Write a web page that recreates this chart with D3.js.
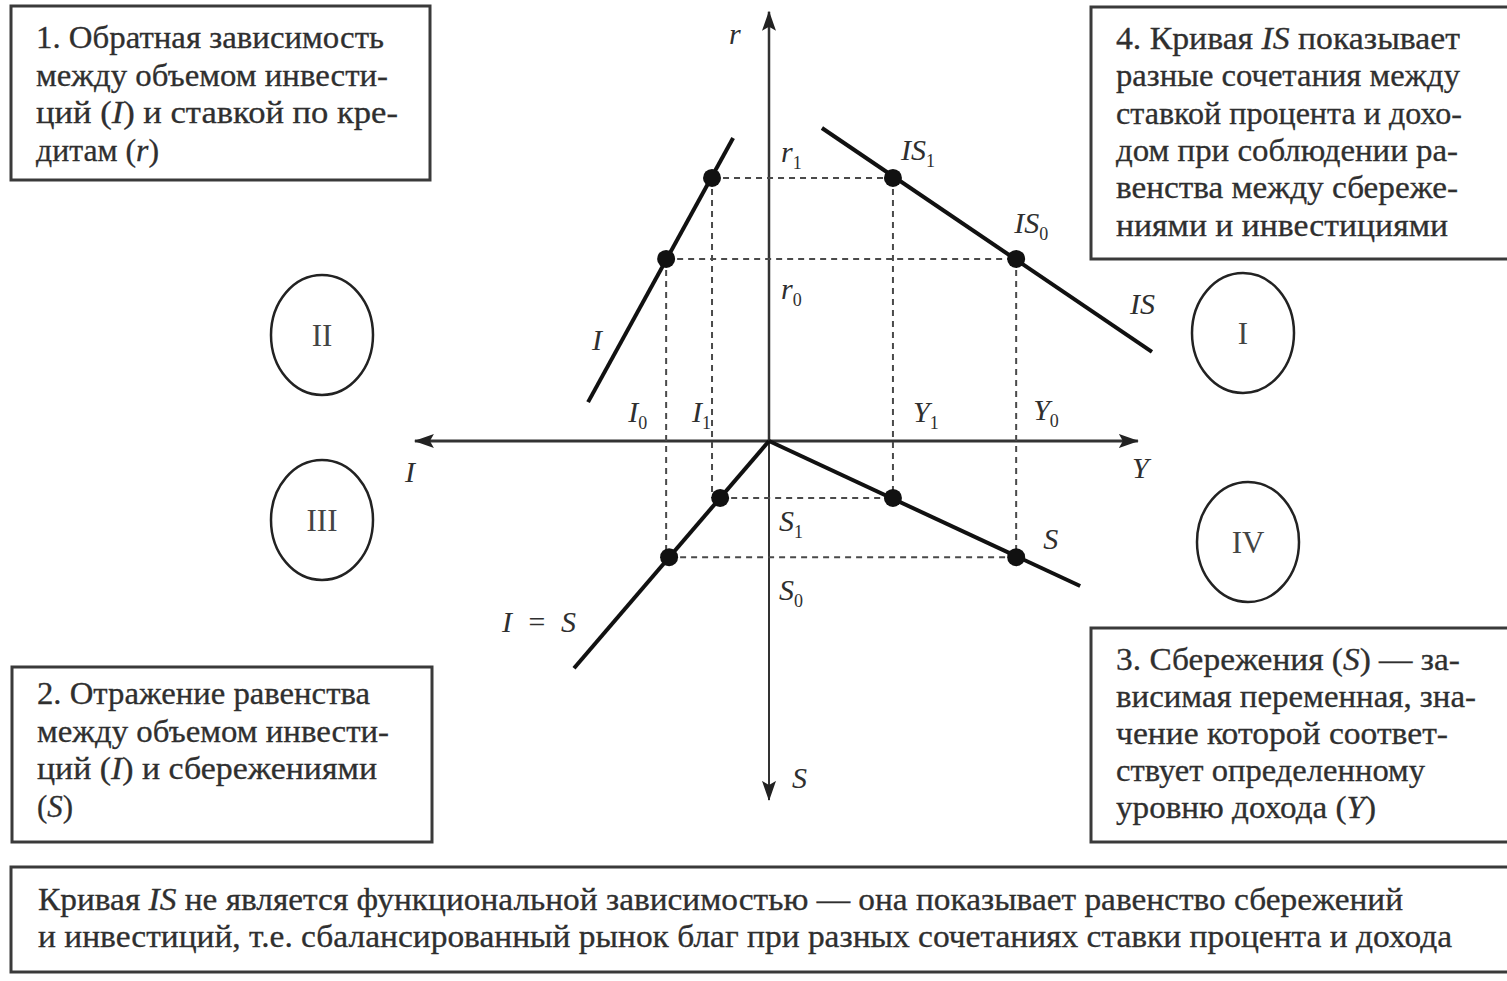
<!DOCTYPE html>
<html>
<head>
<meta charset="utf-8">
<script src="https://cdnjs.cloudflare.com/ajax/libs/d3/7.8.5/d3.min.js"></script>
<style>
    body { margin: 0; background: #fff; }
    text { font-family: "Liberation Serif", "Times New Roman", serif; }
</style>
</head>
<body>
<div id="plot"></div>
<script>
var W = 1507, H = 981;

// levels (abstract units, origin at axes crossing)
var rLevels = [4.92, 7.11];    // r0, r1
var iLevels = [-2.78, -1.54];  // I0, I1
var yLevels = [6.68, 3.35];    // Y0, Y1
var sLevels = [-3.14, -1.54];  // S0, S1
var eqDotX = [-2.70, -1.32];   // dots on I = S line

// the four lines
var investLine = [[-4.89, 1.05], [-0.97, 8.19]];
var isLine = [[1.43, 8.46], [10.35, 2.41]];
var equalLine = [[0, 0], [-5.27, -6.14]];
var savingLine = [[0, 0], [8.41, -3.92]];

// axis extent
var axisX = [-9.57, 9.97];
var axisY = [-9.7, 11.6];

var quadrants = ["I", "II", "III", "IV"];

// box texts, *...* = italic
var box1 = ["1. Обратная зависимость", "между объемом инвести-", "ций (*I*) и ставкой по кре-", "дитам (*r*)"];
var box2 = ["2. Отражение равенства", "между объемом инвести-", "ций (*I*) и сбережениями", "(*S*)"];
var box3 = ["3. Сбережения (*S*) — за-", "висимая переменная, зна-", "чение которой соответ-", "ствует определенному", "уровню дохода (*Y*)"];
var box4 = ["4. Кривая *IS* показывает", "разные сочетания между", "ставкой процента и дохо-", "дом при соблюдении ра-", "венства между сбереже-", "ниями и инвестициями"];
var boxBottom = ["Кривая *IS* не является функциональной зависимостью — она показывает равенство сбережений",
    "и инвестиций, т.е. сбалансированный рынок благ при разных сочетаниях ставки процента и дохода"];

var svg = d3.select('#plot').append('svg')
    .attr('width', W).attr('height', H);

var x = d3.scaleLinear().domain([-10, 10]).range([399, 1139]);
var y = d3.scaleLinear().domain([-10, 10]).range([811, 71]);

var ink = "#111", grey = "#333", textCol = "#2f2f2f";

// arrow marker
svg.append('defs').append('marker')
    .attr('id', 'arrow')
    .attr('viewBox', '0 0 20 14')
    .attr('refX', 19).attr('refY', 7)
    .attr('markerWidth', 20).attr('markerHeight', 14)
    .attr('markerUnits', 'userSpaceOnUse')
    .attr('orient', 'auto')
    .append('path').attr('d', 'M0,0 L20,7 L0,14 L4,7 Z').attr('fill', '#222');

// axes
var axes = svg.append('g');
axes.append('line')
    .attr('x1', x(0)).attr('y1', y(0))
    .attr('x2', x(axisX[0])).attr('y2', y(0))
    .attr('stroke', grey).attr('stroke-width', 3).attr('marker-end', 'url(#arrow)');
axes.append('line')
    .attr('x1', x(0)).attr('y1', y(0))
    .attr('x2', x(axisX[1])).attr('y2', y(0))
    .attr('stroke', grey).attr('stroke-width', 3).attr('marker-end', 'url(#arrow)');
axes.append('line')
    .attr('x1', x(0)).attr('y1', y(0))
    .attr('x2', x(0)).attr('y2', y(axisY[1]))
    .attr('stroke', grey).attr('stroke-width', 2.5).attr('marker-end', 'url(#arrow)');
axes.append('line')
    .attr('x1', x(0)).attr('y1', y(0))
    .attr('x2', x(0)).attr('y2', y(axisY[0]))
    .attr('stroke', grey).attr('stroke-width', 2).attr('marker-end', 'url(#arrow)');

// dashed guides
var guides = [];
for (var i = 0; i < 2; i++) {
    guides.push([[iLevels[i], rLevels[i]], [yLevels[i], rLevels[i]]]);
    guides.push([[eqDotX[i], sLevels[i]], [yLevels[i], sLevels[i]]]);
    guides.push([[iLevels[i], rLevels[i]], [iLevels[i], sLevels[i]]]);
    guides.push([[yLevels[i], rLevels[i]], [yLevels[i], sLevels[i]]]);
}
svg.append('g').selectAll('.guide')
    .data(guides).enter().append('line')
    .attr('class', 'guide')
    .attr('x1', function(d){return x(d[0][0])})
    .attr('y1', function(d){return y(d[0][1])})
    .attr('x2', function(d){return x(d[1][0])})
    .attr('y2', function(d){return y(d[1][1])})
    .attr('stroke', '#4a4a4a').attr('stroke-width', 2)
    .attr('stroke-dasharray', '6,5');

// curves
var lineGen = d3.line().x(function(d){return x(d[0])}).y(function(d){return y(d[1])});
svg.append('g').selectAll('.curve')
    .data([investLine, isLine, equalLine, savingLine]).enter().append('path')
    .attr('class', 'curve')
    .attr('d', lineGen)
    .attr('fill', 'none').attr('stroke', ink).attr('stroke-width', 4)
    .attr('stroke-linecap', 'butt');

// dots
var dots = [];
for (var j = 0; j < 2; j++) {
    dots.push([iLevels[j], rLevels[j]]);
    dots.push([yLevels[j], rLevels[j]]);
    dots.push([eqDotX[j], sLevels[j]]);
    dots.push([yLevels[j], sLevels[j]]);
}
svg.append('g').selectAll('.dot')
    .data(dots).enter().append('circle')
    .attr('class', 'dot')
    .attr('cx', function(d){return x(d[0])})
    .attr('cy', function(d){return y(d[1])})
    .attr('r', 9).attr('fill', ink);

// labels (italic letter + optional subscript)
function label(px, py, main, sub, len) {
    var t = svg.append('text')
        .attr('x', px).attr('y', py)
        .attr('font-size', 30).attr('font-style', 'italic')
        .attr('fill', textCol);
    if (len) t.attr('textLength', len).attr('lengthAdjust', 'spacing');
    t.append('tspan').text(main);
    if (sub) t.append('tspan').attr('font-size', 18).attr('font-style', 'normal').attr('dy', 7).text(sub);
}
label(x(0) + 12, y(rLevels[1]) - 16, 'r', '1');
label(x(0) + 12, y(rLevels[0]) + 40, 'r', '0');
label(x(yLevels[1]) + 8, y(rLevels[1]) - 18, 'IS', '1');
label(x(yLevels[0]) - 2, y(rLevels[0]) - 26, 'IS', '0');
label(x(iLevels[0]) - 38, y(0) - 19, 'I', '0');
label(x(iLevels[1]) - 20, y(0) - 19, 'I', '1');
label(x(yLevels[1]) + 20, y(0) - 19, 'Y', '1');
label(x(yLevels[0]) + 17, y(0) - 21, 'Y', '0');
label(x(0) + 10, y(sLevels[1]) + 33, 'S', '1');
label(x(0) + 10, y(sLevels[0]) + 43, 'S', '0');
label(x(yLevels[0]) + 27, y(sLevels[0]) - 8, 'S');
label(x(investLine[0][0]) + 4, y(investLine[0][1]) - 52, 'I');
label(x(isLine[1][0]) - 22, y(isLine[1][1]) - 38, 'IS');
label(502, 632, 'I = S', null, 74);
label(729, 44, 'r');
label(405, 482, 'I');
label(1132, 478, 'Y');
label(x(0) + 23, 788, 'S');

// quadrant circles
var circlePos = {"I": [1243, 333], "II": [322, 335], "III": [322, 520], "IV": [1248, 542]};
var qc = svg.append('g').selectAll('.quad')
    .data(quadrants).enter().append('g')
    .attr('class', 'quad')
    .attr('transform', function(d){return 'translate(' + circlePos[d][0] + ',' + circlePos[d][1] + ')'});
qc.append('ellipse').attr('rx', 51).attr('ry', 60)
    .attr('fill', 'none').attr('stroke', '#222').attr('stroke-width', 2.5);
qc.append('text').text(function(d){return d})
    .attr('text-anchor', 'middle').attr('dy', 11)
    .attr('font-size', 31).attr('fill', '#444');

// text boxes
function textBox(bx, by, bw, bh, lines, tx, ty0, lh, widths) {
    svg.append('rect')
        .attr('x', bx).attr('y', by).attr('width', bw).attr('height', bh)
        .attr('fill', 'none').attr('stroke', '#3a3a3a').attr('stroke-width', 3);
    lines.forEach(function(line, k) {
        var t = svg.append('text')
            .attr('x', tx).attr('y', ty0 + k * lh)
            .attr('font-size', 31).attr('fill', textCol)
            .attr('stroke', textCol).attr('stroke-width', 0.3)
            .attr('textLength', widths[k]).attr('lengthAdjust', 'spacingAndGlyphs');
        line.split('*').forEach(function(part, p) {
            if (!part) return;
            t.append('tspan').text(part).attr('font-style', p % 2 ? 'italic' : 'normal');
        });
    });
}
textBox(11, 6, 419, 174, box1, 36, 48, 37.5, [348, 352, 362, 123]);
textBox(12, 667, 420, 175, box2, 37, 704, 37.5, [333, 352, 340, 36]);
textBox(1091, 628, 420, 214, box3, 1116, 670, 37, [344, 360, 332, 309, 260]);
textBox(1091, 7, 420, 252, box4, 1116, 49, 37.3, [344, 344, 346, 342, 342, 332]);
textBox(11, 867, 1500, 105, boxBottom, 38, 910, 37, [1365, 1414]);
</script>
</body>
</html>
